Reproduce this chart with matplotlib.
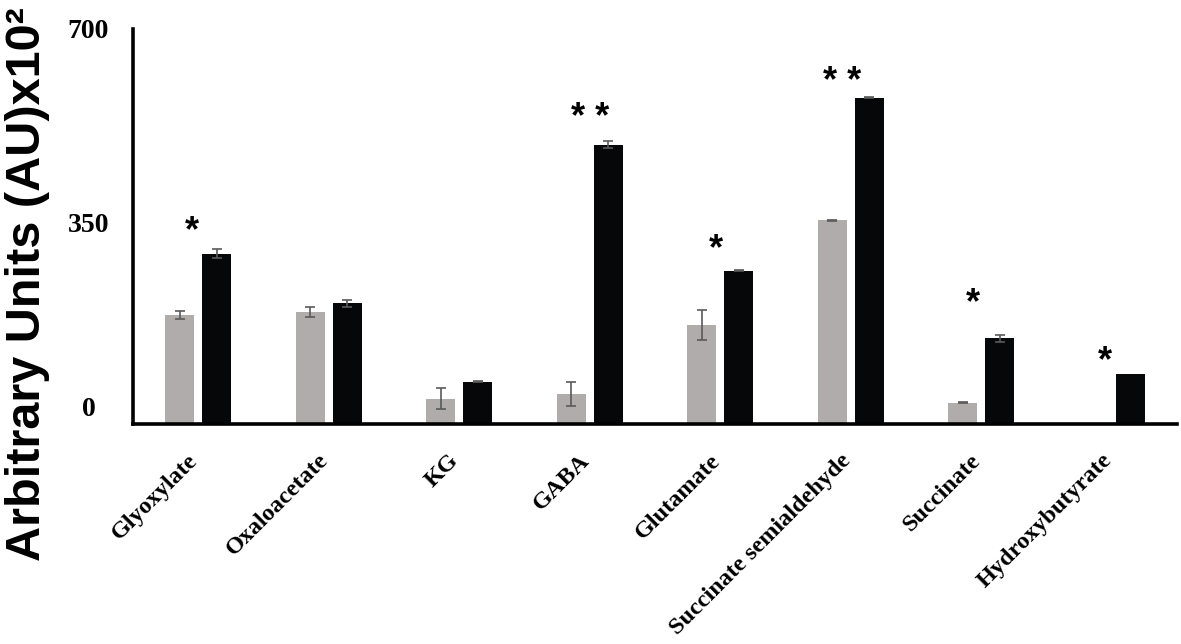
import matplotlib
matplotlib.use('Agg')
import matplotlib.pyplot as plt
import matplotlib.transforms as mtransforms
import numpy as np

# values (AU x10^2)
categories = ['Glyoxylate', 'Oxaloacetate', 'KG', 'GABA', 'Glutamate',
              'Succinate semialdehyde', 'Succinate', 'Hydroxybutyrate']
control = [193, 198, 45, 53, 175, 361, 38, 0]
control_err = [7.5, 8.5, 19, 21, 27, 1, 1.5, 0]
treated = [302, 214, 75, 495, 272, 578, 152, 89]
treated_err = [7.5, 6.5, 0.8, 6.5, 1, 1, 6.5, 0]
stars = ['*', '', '', '* *', '*', '* *', '*', '*']
star_y = [353, 0, 0, 553, 321, 618, 225, 122]
yticks = [0, 350, 700]

gray = '#b0acab'
black = '#060709'
errcol = '#5a5a5a'

fig = plt.figure(figsize=(11.81, 6.44), dpi=100)
ax = fig.add_axes([133/1181, 1-424/644, 1044/1181, 395/644])

x = np.arange(len(categories))
w = 0.22
off = 0.142

ax.bar(x - off, control, w, color=gray, zorder=2)
ax.bar(x + off, treated, w, color=black, zorder=2)

#error bars, skipped where there is none
for i in range(len(x)):
    if control_err[i] > 0:
        ax.errorbar(x[i] - off, control[i], yerr=control_err[i], fmt='none',
                    ecolor=errcol, elinewidth=1.2, capsize=3.5, capthick=1.2, zorder=3)
    if treated_err[i] > 0:
        ax.errorbar(x[i] + off, treated[i], yerr=treated_err[i], fmt='none',
                    ecolor=errcol, elinewidth=1.2, capsize=3.5, capthick=1.2, zorder=3)

#significance stars (small horizontal nudges as in the original)
star_dx = [-6, 0, 0, 0, -4, -9, -8, -7]
for i, s in enumerate(stars):
    if s:
        ax.annotate(s, xy=(x[i], star_y[i]), xytext=(star_dx[i], -7), textcoords='offset pixels',
                    ha='center', va='center', fontsize=26, fontweight='bold',
                    family='Liberation Sans')

ax.set_xlim(-0.5, len(categories) - 0.5)
ax.set_ylim(0, 700)

for side in ['top', 'right']:
    ax.spines[side].set_visible(False)
for side in ['left', 'bottom']:
    ax.spines[side].set_linewidth(2.6)
    ax.spines[side].set_color('black')

ax.set_yticks(yticks)
ax.set_yticklabels([str(v) for v in yticks], family='Liberation Serif',
                   fontsize=20, fontweight='bold', ha='center')
ax.tick_params(axis='y', length=0, pad=32)
ax.set_xticks([])

# the 0 and 350 labels sit a bit higher in the original
lbls = ax.get_yticklabels()
lbls[0].set_transform(lbls[0].get_transform() + mtransforms.ScaledTranslation(0, 17/100, fig.dpi_scale_trans))
lbls[1].set_transform(lbls[1].get_transform() + mtransforms.ScaledTranslation(0, 4/100, fig.dpi_scale_trans))

#category labels
for i, name in enumerate(categories):
    ax.annotate(name, xy=(x[i], 0), xycoords=('data', 'axes fraction'),
                xytext=(4, -26), textcoords='offset pixels',
                rotation=45, ha='right', va='top', fontsize=17.5,
                fontweight='bold', family='Liberation Serif')

fig.text(0.004, 1-284/644, 'Arbitrary Units (AU)x10\u00b2', rotation=90, ha='left', va='center',
         fontsize=35, fontweight='bold', family='Liberation Sans')

fig.savefig('out.png', dpi=100)
